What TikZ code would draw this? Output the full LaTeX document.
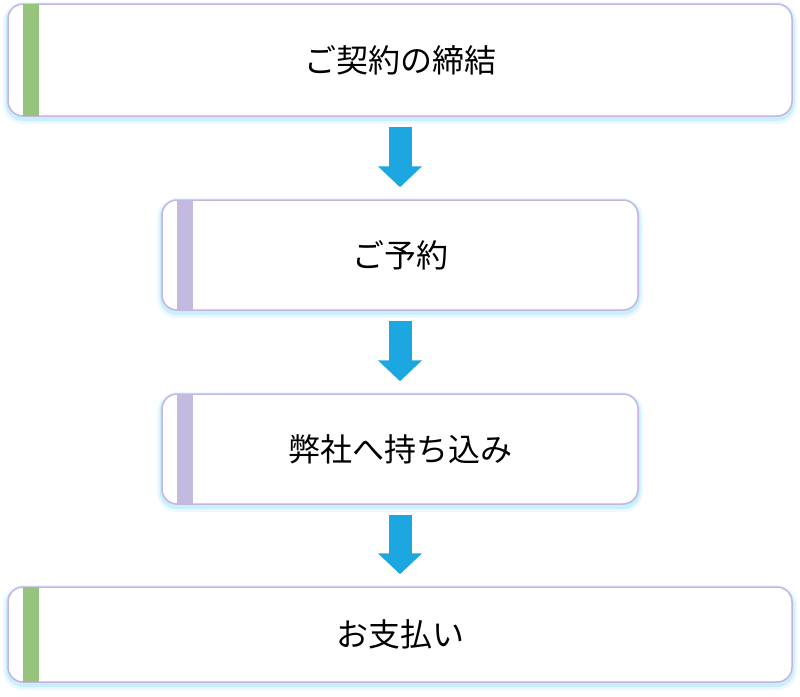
\documentclass[tikz,border=0pt]{standalone}
\usepackage{fontspec}
\setmainfont{Noto Sans CJK JP}
\usepackage{tikz}
\usetikzlibrary{arrows.meta}
\usetikzlibrary{positioning}
\definecolor{framelilac}{RGB}{196,180,226}
\definecolor{glowcyan}{RGB}{120,215,245}
\definecolor{bargreen}{RGB}{150,196,124}
\definecolor{barlilac}{RGB}{196,186,224}
\definecolor{flowblue}{RGB}{29,167,225}
\begin{document}
\begin{tikzpicture}[x=1pt,y=1pt,
	stepbox/.style={draw=framelilac, line width=1.5pt, fill=white, rounded corners=15pt,
		inner sep=0pt, font=\fontsize{32}{38}\selectfont,
		preaction={draw=glowcyan, line width=10pt, opacity=0.15, transform canvas={yshift=-3pt}},
		preaction={draw=glowcyan, line width=5pt, opacity=0.3, transform canvas={yshift=-2.5pt}}},
	widebox/.style={stepbox, minimum width=784pt},
	narrowbox/.style={stepbox, minimum width=476pt},
	flow/.style={draw=flowblue, line width=23pt, -{Triangle[width=43pt,length=21pt]}}]
	\useasboundingbox (0,0) rectangle (800,-696);
	\node[widebox, minimum height=112pt] (contract) at (400,-60) {ご契約の締結};
	\node[narrowbox, minimum height=110pt] (booking) at (400,-255) {ご予約};
	\node[narrowbox, minimum height=110pt] (carryin) at (400,-449) {弊社へ持ち込み};
	\node[widebox, minimum height=95pt] (payment) at (400,-634.5) {お支払い};
	\fill[bargreen] ([xshift=16pt,yshift=-0.75pt]contract.north west) rectangle ([xshift=32pt,yshift=0.75pt]contract.south west);
	\fill[barlilac] ([xshift=16pt,yshift=-0.75pt]booking.north west) rectangle ([xshift=32pt,yshift=0.75pt]booking.south west);
	\fill[barlilac] ([xshift=16pt,yshift=-0.75pt]carryin.north west) rectangle ([xshift=32pt,yshift=0.75pt]carryin.south west);
	\fill[bargreen] ([xshift=16pt,yshift=-0.75pt]payment.north west) rectangle ([xshift=32pt,yshift=0.75pt]payment.south west);
	\draw[flow] ([yshift=-10pt]contract.south) -- ([yshift=12pt]booking.north);
	\draw[flow] ([yshift=-10pt]booking.south) -- ([yshift=12pt]carryin.north);
	\draw[flow] ([yshift=-10pt]carryin.south) -- ([yshift=12pt]payment.north);
\end{tikzpicture}
\end{document}
